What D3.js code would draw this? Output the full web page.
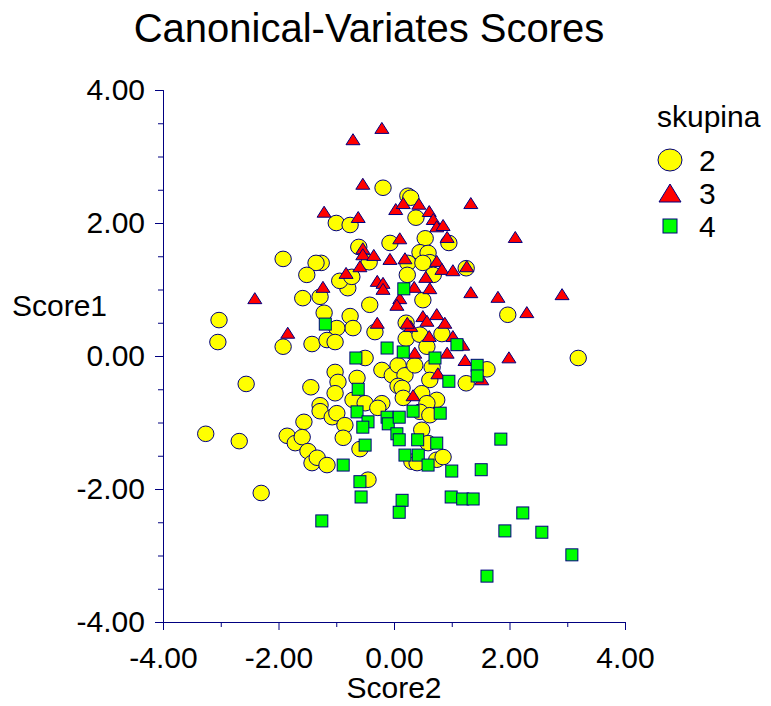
<!DOCTYPE html>
<html><head><meta charset="utf-8">
<script src="https://cdn.jsdelivr.net/npm/d3@7"></script>
<style>body{margin:0;background:#fff}svg{display:block}text{font-family:"Liberation Sans",Arial,sans-serif}</style>
</head><body>
<svg id="c" width="771" height="706"></svg>
<script>
const title = "Canonical-Variates Scores";
const xLabel = "Score2", yLabel = "Score1";
const legendTitle = "skupina";
const groups = ["2", "3", "4"];
const xTicks = [-4, -2, 0, 2, 4];
const yTicks = [-4, -2, 0, 2, 4];
const xMinor = [-3, -1, 1, 3];
const yMinor = [-3.5,-3,-2.5,-1.5,-1,-0.5,0.5,1,1.5,2.5,3,3.5];

const skupina2 = [[-0.19,2.53],[0.24,2.41],[0.29,2.38],[-1.00,2.00],[-0.76,1.97],[0.38,2.08],[0.95,1.70],[0.54,1.77],[-0.07,1.70],[-0.61,1.64],[-1.26,1.40],[-1.92,1.46],[-1.35,1.40],[-0.43,1.41],[-1.51,1.22],[-0.80,1.02],[-0.94,1.13],[-0.73,1.19],[-1.58,0.87],[-1.28,0.89],[-0.42,0.77],[0.24,1.40],[0.45,1.56],[0.59,1.55],[0.62,1.41],[0.50,1.40],[0.23,1.22],[0.68,1.22],[0.50,0.84],[1.25,1.32],[-3.03,0.54],[-3.05,0.21],[-1.92,0.14],[-1.42,0.18],[-1.21,0.65],[-0.76,0.60],[-0.71,0.42],[-0.99,0.42],[-0.33,0.36],[-1.16,0.24],[-1.02,0.21],[0.21,0.50],[0.21,0.26],[0.45,0.32],[0.57,0.14],[0.83,0.33],[1.97,0.62],[3.19,-0.03],[1.61,-0.20],[1.25,-0.41],[-2.56,-0.42],[-1.44,-0.47],[-1.28,-0.74],[-1.28,-0.83],[-1.56,-0.99],[-3.26,-1.17],[-2.68,-1.28],[-1.85,-1.20],[-1.71,-1.31],[-1.59,-1.22],[-1.49,-1.43],[-1.42,-1.61],[-1.33,-1.53],[-2.30,-2.06],[-0.50,-0.03],[-1.02,-0.24],[-0.97,-0.39],[-1.02,-0.56],[-0.64,-0.33],[-0.71,-0.66],[-0.50,-0.71],[-0.21,-0.21],[-0.03,-0.29],[0.07,-0.14],[0.19,-0.29],[0.36,-0.14],[0.66,-0.17],[0.62,-0.36],[0.07,-0.45],[0.14,-0.48],[0.16,-0.63],[0.48,-0.56],[0.74,-0.66],[0.57,-0.71],[-0.21,-0.71],[-0.28,-0.78],[-1.07,-0.92],[-0.99,-0.86],[-0.85,-1.04],[-0.88,-1.23],[0.45,-0.84],[0.62,-0.89],[0.48,-1.11],[0.59,-1.31],[-0.59,-1.40],[0.31,-1.59],[0.40,-1.61],[0.74,-1.56],[0.85,-1.52],[-1.16,-1.64],[-0.45,-1.86]];

const skupina3 = [[-0.21,3.43],[-0.71,3.26],[-0.54,2.59],[-1.21,2.17],[-0.62,2.09],[0.03,2.21],[0.16,2.30],[0.43,2.29],[0.61,2.18],[0.68,2.06],[0.74,1.95],[0.85,1.97],[1.33,2.30],[2.10,1.79],[0.10,1.77],[0.92,1.79],[-0.54,1.62],[-0.54,1.53],[-0.35,1.52],[-0.07,1.46],[0.19,1.47],[-0.59,1.35],[0.74,1.43],[0.83,1.31],[1.02,1.29],[1.26,1.35],[-0.83,1.25],[-0.29,1.13],[-0.19,1.10],[-0.19,1.01],[0.35,1.04],[0.55,1.19],[0.62,1.02],[-1.23,1.04],[-2.41,0.87],[1.33,0.96],[1.80,0.89],[2.91,0.93],[0.10,0.87],[0.05,0.77],[2.30,0.66],[0.50,0.60],[0.74,0.63],[0.57,0.53],[0.88,0.50],[-0.29,0.50],[0.29,0.45],[0.23,0.50],[0.61,0.30],[1.02,0.30],[1.19,0.17],[-1.84,0.35],[0.36,0.05],[0.92,0.05],[0.76,-0.26],[0.33,-0.59],[1.23,-0.06],[1.99,-0.02],[1.52,-0.35]];

const skupina4 = [[0.17,1.01],[-1.19,0.48],[-0.12,0.12],[1.09,0.17],[-0.66,-0.03],[0.95,-0.38],[-0.62,-0.50],[-0.64,-0.84],[-0.45,-0.99],[-0.54,-1.07],[-0.12,-0.92],[-0.10,-1.02],[0.09,-0.92],[0.33,-0.83],[0.80,-0.86],[0.05,-1.17],[0.09,-1.26],[0.41,-1.26],[0.74,-1.31],[0.19,-1.49],[0.42,-1.49],[-0.88,-1.64],[-0.50,-1.34],[0.59,-1.64],[0.16,0.06],[0.71,-0.03],[1.44,-0.14],[1.44,-0.30],[1.85,-1.25],[1.51,-1.71],[-1.25,-2.48],[-0.59,-1.89],[-0.57,-2.12],[0.14,-2.17],[0.09,-2.35],[1.00,-1.73],[0.99,-2.12],[1.19,-2.15],[1.37,-2.15],[2.23,-2.36],[1.92,-2.63],[2.56,-2.65],[3.08,-2.99],[1.61,-3.31]];

const fills = {"2":"#ffff00","3":"#ff0000","4":"#00ff00"};
const stroke = "#000080";
const fmt = d => d.toFixed(2);

const svg = d3.select("#c");
const x = d3.scaleLinear().domain([-4,4]).range([163,625]);
const y = d3.scaleLinear().domain([-4,4]).range([622,90]);

svg.append("text").attr("x",369).attr("y",42).attr("text-anchor","middle")
  .attr("font-size",40).text(title);

// axes
const axCol = "#000080";
const yAx = svg.append("g").attr("transform","translate(163,0)")
  .call(d3.axisLeft(y).tickValues(yTicks).tickFormat(fmt).tickSize(8).tickPadding(10));
const yAxMin = svg.append("g").attr("transform","translate(163,0)")
  .call(d3.axisLeft(y).tickValues(yMinor).tickFormat("").tickSize(5));
const xAx = svg.append("g").attr("transform","translate(0,622)")
  .call(d3.axisBottom(x).tickValues(xTicks).tickFormat(fmt).tickSize(8).tickPadding(17));
const xAxMin = svg.append("g").attr("transform","translate(0,622)")
  .call(d3.axisBottom(x).tickValues(xMinor).tickFormat("").tickSize(5));
[yAx,yAxMin,xAx,xAxMin].forEach(g=>{
  g.selectAll("path").attr("stroke",axCol).attr("stroke-width",1);
  g.selectAll("line").attr("stroke",axCol).attr("stroke-width",1);
  g.selectAll("text").attr("font-size",30).attr("fill","#000").attr("font-family","Liberation Sans, Arial, sans-serif");
});

svg.append("text").attr("x",12).attr("y",316).attr("font-size",30).text(yLabel);
svg.append("text").attr("x",394).attr("y",698).attr("text-anchor","middle").attr("font-size",30).text(xLabel);

function drawCircles(data){
  svg.append("g").selectAll("ellipse").data(data).join("ellipse")
    .attr("cx",d=>x(d[0])).attr("cy",d=>y(d[1])).attr("rx",8.2).attr("ry",7.8)
    .attr("fill",fills["2"]).attr("stroke",stroke).attr("stroke-width",1);
}
function triPath(cx,cy,w,h){
  return `M${cx},${cy-h/2}L${cx+w/2},${cy+h/2}L${cx-w/2},${cy+h/2}Z`;
}
function drawTris(data){
  svg.append("g").selectAll("path").data(data).join("path")
    .attr("d",d=>triPath(x(d[0]),y(d[1]),14,11))
    .attr("fill",fills["3"]).attr("stroke",stroke).attr("stroke-width",1);
}
function drawSquares(data){
  svg.append("g").selectAll("rect").data(data).join("rect")
    .attr("x",d=>x(d[0])-6).attr("y",d=>y(d[1])-6).attr("width",12).attr("height",12)
    .attr("fill",fills["4"]).attr("stroke",stroke).attr("stroke-width",1);
}
drawCircles(skupina2);
drawTris(skupina3);
drawSquares(skupina4);

// legend
const lg = svg.append("g");
lg.append("text").attr("x",657).attr("y",127).attr("font-size",30).text(legendTitle);
const ly = [160,193,226];
lg.append("ellipse").attr("cx",670).attr("cy",ly[0]).attr("rx",12).attr("ry",11)
  .attr("fill",fills["2"]).attr("stroke",stroke);
lg.append("path").attr("d",triPath(670,ly[1],22,18)).attr("fill",fills["3"]).attr("stroke",stroke);
lg.append("rect").attr("x",663).attr("y",ly[2]-7).attr("width",14).attr("height",14)
  .attr("fill",fills["4"]).attr("stroke",stroke);
groups.forEach((g,i)=>{
  lg.append("text").attr("x",699).attr("y",ly[i]+11).attr("font-size",30).text(g);
});
</script>
</body></html>
